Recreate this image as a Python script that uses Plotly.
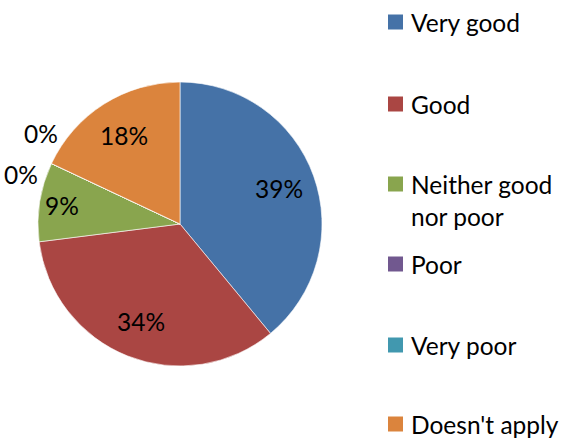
import math
import plotly.graph_objects as go

# data
categories = ["Very good", "Good", "Neither good<br>nor poor", "Poor", "Very poor", "Doesn't apply"]
shares = [39, 34, 9, 0, 0, 18]
colors = ["#4572A7", "#AA4643", "#89A54E", "#71588F", "#4198AF", "#DB843D"]

W, H = 561, 441
FONT = "Lato"
FSIZE = 24.5

# pie geometry in pixels
cx, cy, R = 180, 224, 142

fig = go.Figure(go.Pie(
    labels=categories,
    values=shares,
    sort=False,
    direction="clockwise",
    rotation=0,
    marker=dict(colors=colors, line=dict(color="white", width=0.6)),
    textinfo="none",
    hoverinfo="label+percent",
    showlegend=False,
    domain=dict(x=[(cx - R) / W, (cx + R) / W], y=[1 - (cy + R) / H, 1 - (cy - R) / H]),
))


def to_paper(px, py):
    return px / W, 1 - py / H


# percentage labels, placed along each slice's bisector
total = sum(shares)
start = 0.0
zero_idx = 0
annotations = []
for name, v in zip(categories, shares):
    frac = v / total
    mid = start + frac / 2
    if v == 0:
        # zero slices get spread-out outside labels like Excel does
        mid += (-0.022 if zero_idx == 0 else 0.022)
        rr = 1.17
        zero_idx += 1
    elif frac < 0.1:
        rr = 0.84
    else:
        rr = 0.74
    ang = 2 * math.pi * mid
    px = cx + rr * R * math.sin(ang)
    py = cy - rr * R * math.cos(ang)
    x, y = to_paper(px, py)
    annotations.append(dict(
        x=x, y=y, xref="paper", yref="paper", showarrow=False,
        text=f"{round(frac * 100)}%", font=dict(family=FONT, size=FSIZE, color="black"),
        xanchor="center", yanchor="middle",
    ))
    start += frac

# custom legend with wide spacing
legend_y = [22, 104, 184, 264, 345, 424]
shapes = []
for name, col, ly in zip(categories, colors, legend_y):
    shapes.append(dict(
        type="rect", xref="paper", yref="paper",
        x0=388 / W, x1=403 / W, y0=1 - (ly + 7.5) / H, y1=1 - (ly - 7.5) / H,
        fillcolor=col, line=dict(width=0),
    ))
    x, y = to_paper(409, ly - 16)
    annotations.append(dict(
        x=x, y=y, xref="paper", yref="paper", showarrow=False,
        text=name, align="left", font=dict(family=FONT, size=FSIZE, color="black"),
        xanchor="left", yanchor="top",
    ))

fig.update_layout(
    width=W, height=H,
    margin=dict(l=0, r=0, t=0, b=0),
    paper_bgcolor="white",
    plot_bgcolor="white",
    annotations=annotations,
    shapes=shapes,
)

# drop the browser's default 8px body margin so the figure sits at the window's corner
fig.write_html(
    "out.html",
    config={"displayModeBar": False},
    post_script="document.body.style.margin='0';",
)
